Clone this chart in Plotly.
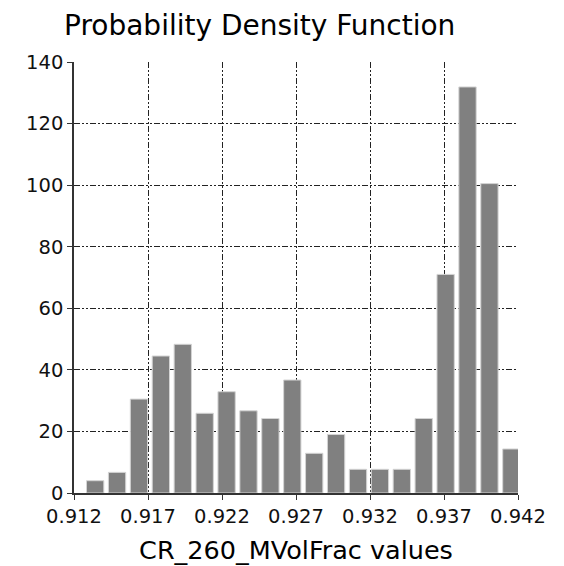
import plotly.graph_objects as go

# Histogram data
first_center = 0.91343
center_step = 0.00148
density = [4, 6.7, 30.5, 44.5, 48.3, 25.9, 32.9, 26.7, 24.2, 36.7,
           12.9, 19, 7.7, 7.7, 7.7, 24.2, 71, 131.9, 100.5, 14.3]
x_ticks = [0.912, 0.917, 0.922, 0.927, 0.932, 0.937, 0.942]
x_tick_labels = ["0.912", "0.917", "0.922", "0.927", "0.932", "0.937", "0.942"]
y_ticks = [0, 20, 40, 60, 80, 100, 120, 140]

centers = [first_center + center_step * i for i in range(len(density))]

fig = go.Figure()
fig.add_trace(go.Bar(
    x=centers, y=density, width=center_step * 0.79,
    marker=dict(color="#808080", line=dict(color="#d4d4d4", width=1)),
    hoverinfo="x+y",
))

font = "DejaVu Sans, Arial, sans-serif"
grid_dash = "6px,2px,2px,2px,2px,2px"

fig.update_layout(
    width=564, height=566,
    margin=dict(l=74, r=46, t=62, b=73),
    paper_bgcolor="white", plot_bgcolor="white",
    showlegend=False,
    font=dict(family=font, size=19.5, color="#111111"),
    title=dict(text="Probability Density Function", x=64 / 564, xanchor="left",
               y=1 - 35 / 566, yanchor="bottom", font=dict(size=28, color="black")),
    xaxis=dict(
        range=[0.912, 0.942], tickmode="array", tickvals=x_ticks, ticktext=x_tick_labels,
        showgrid=True, gridcolor="#222222", gridwidth=1, griddash=grid_dash,
        showline=True, linecolor="#333333", linewidth=1.5,
        ticks="outside", ticklen=5, tickcolor="#333333",
        tickfont=dict(size=19.5), zeroline=False, automargin=False,
        title=dict(text="CR_260_MVolFrac values", font=dict(size=25.5, color="black"), standoff=14),
    ),
    yaxis=dict(
        range=[0, 140], tickmode="array", tickvals=y_ticks,
        showgrid=True, gridcolor="#222222", gridwidth=1, griddash=grid_dash,
        showline=True, linecolor="#333333", linewidth=1.5,
        ticks="outside", ticklen=5, tickcolor="#333333",
        tickfont=dict(size=19.5), zeroline=False, automargin=False,
    ),
)

fig.write_html("out.html")
